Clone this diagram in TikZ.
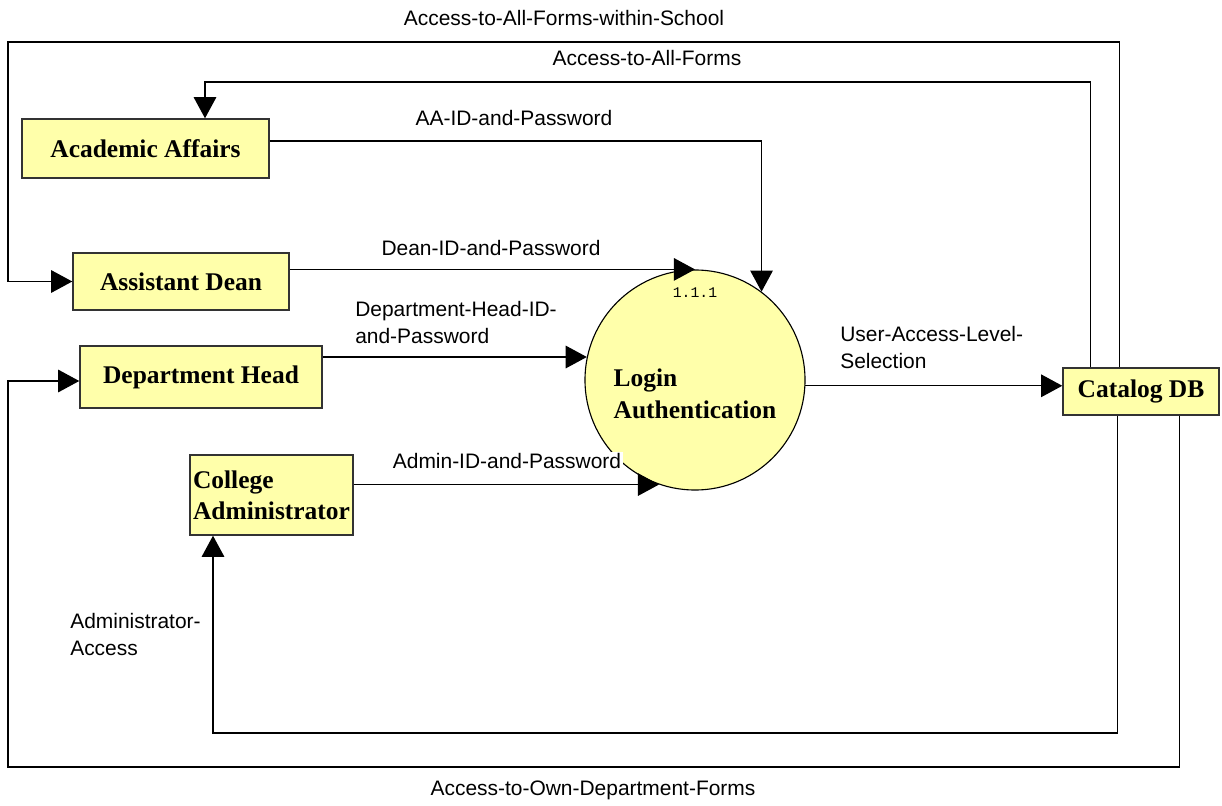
\documentclass[tikz,border=0pt]{standalone}
\usepackage{fontspec}
\setmainfont{Liberation Serif}
\newfontfamily\labelfont{Liberation Sans}
\newfontfamily\numfont{Liberation Mono}
\usetikzlibrary{arrows.meta,calc}
\definecolor{boxfill}{RGB}{255,255,170}
\tikzset{
  entity/.style={draw=black!80, line width=1pt, fill=boxfill, inner sep=0pt,
    font=\fontsize{18.1}{22}\selectfont\bfseries, align=center},
  process/.style={circle, draw=black, line width=0.8pt, fill=boxfill,
    minimum size=5.5cm, inner sep=0pt},
  flow/.style={draw=black, line width=0.9pt, -{Triangle[length=15pt,width=16pt]}},
  flowlabel/.style={font=\labelfont\fontsize{14.9}{19.2}\selectfont, inner sep=0pt},
}
\begin{document}
\begin{tikzpicture}[x=0.025cm,y=-0.025cm]
\useasboundingbox (0,0) rectangle (1222,806);

% external entities
\node[entity, minimum width=6.175cm, minimum height=1.475cm] (AA) at (145.5,148.5) {Academic Affairs};
\node[entity, minimum width=5.4cm, minimum height=1.425cm] (AD) at (181,281.5) {Assistant Dean};
\node[entity, minimum width=6.05cm, minimum height=1.55cm] (DH) at (201,377) {Department Head};
\node[entity, minimum width=4.075cm, minimum height=2cm, align=left] (CA) at (271.5,495) {College\\Administrator};
\node[entity, minimum width=3.9cm, minimum height=1.175cm] (CDB) at (1141,391.5) {Catalog DB};

% process bubble
\node[process] (circ) at (695,380) {};
\node[font=\fontsize{18.1}{22.5}\selectfont\bfseries, align=left, inner sep=0pt] (circtext) at (695,394) {Login\\Authentication};
\node[font=\numfont\fontsize{10.5}{11}\selectfont, inner sep=0pt] (pid) at (695,293) {1.1.1};

% routing corners of the return flows
\coordinate (topA) at (8,42);
\coordinate (topB) at (205,82);
\coordinate (botA) at (213,733);
\coordinate (botB) at (8,767);

% login flows into the process
\draw[flow] ($(AA.east)+(0,-7.5)$) -| (circ.53.13);
\draw[flow] (AD.east |- circ.north) -- (circ.north);
\draw[flow] (DH.east |- circ.168) -- (circ.168);
\draw[flow] (CA.east |- circ.251) -- (circ.251);
\draw[flow] (circ.-3.6) -- (circ.-3.6 -| CDB.west);

% access flows back from the catalog
\draw[flow] ($(CDB.north west)+(57,0)$) |- (topA) |- (AD.west);
\draw[flow] ($(CDB.north west)+(28,0)$) |- (topB) -- (topB |- AA.north);
\draw[flow] ($(CDB.south west)+(55,0)$) |- (botA) -- (botA |- CA.south);
\draw[flow] ($(CDB.south west)+(117,0)$) |- (botB) |- ($(DH.west)+(0,4)$);

% flow labels
\node[flowlabel] (l1) at (564,18) {Access-to-All-Forms-within-School};
\node[flowlabel] (l2) at (647,58) {Access-to-All-Forms};
\node[flowlabel] (l3) at (514,118) {AA-ID-and-Password};
\node[flowlabel] (l4) at (491,248) {Dean-ID-and-Password};
\node[flowlabel, anchor=west, align=left] (l5) at (355,323) {Department-Head-ID-\\and-Password};
\node[flowlabel, fill=white, inner sep=1pt] (l6) at (507,461) {Admin-ID-and-Password};
\node[flowlabel, anchor=west, align=left] (l7) at (840,348) {User-Access-Level-\\Selection};
\node[flowlabel, anchor=west, align=left] (l8) at (70,635) {Administrator-\\Access};
\node[flowlabel] (l9) at (593,790) {Access-to-Own-Department-Forms};
\end{tikzpicture}
\end{document}
